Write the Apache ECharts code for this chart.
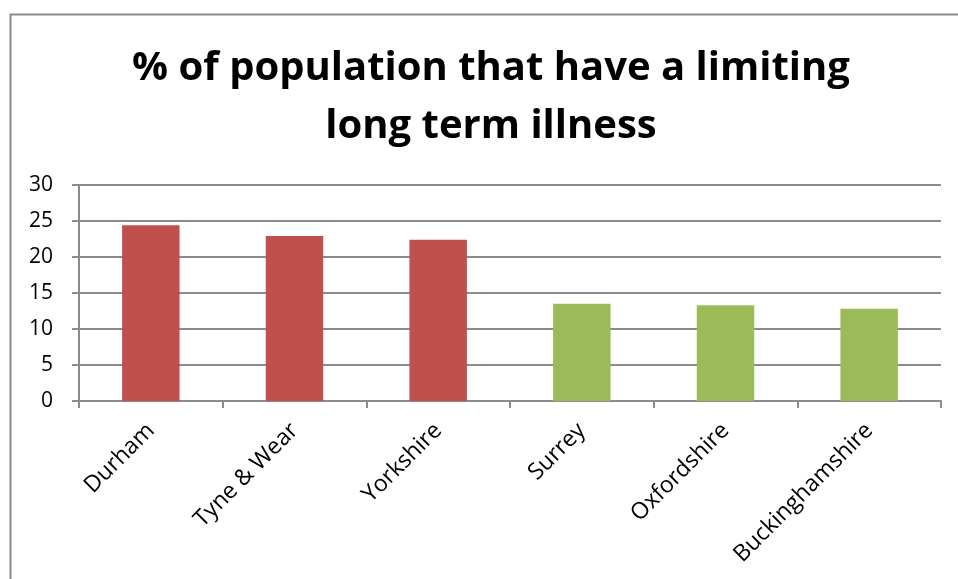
<!DOCTYPE html>
<html>
<head>
<meta charset="utf-8">
<script src="https://cdn.jsdelivr.net/npm/echarts@6/dist/echarts.min.js"></script>
<style>
  html, body { margin: 0; padding: 0; background: #fff; }
  #chart { width: 958px; height: 579px; }
</style>
</head>
<body>
<div id="chart"></div>
<script>
// counties, % with a limiting long term illness
var counties = ['Durham', 'Tyne & Wear', 'Yorkshire', 'Surrey', 'Oxfordshire', 'Buckinghamshire'];
var illness = [24.4, 22.9, 22.4, 13.5, 13.3, 12.8];
var yTicks = [0, 5, 10, 15, 20, 25, 30];

var north = '#C0504D';
var south = '#9BBB59';
var barColors = [north, north, north, south, south, south];

var chart = echarts.init(document.getElementById('chart'));

var option = {
    animation: false,
    textStyle: { fontFamily: 'Open Sans' },
    title: {
        text: '% of population that have a limiting\nlong term illness',
        left: 486,
        top: 35,
        textAlign: 'center',
        textStyle: {
            fontSize: 40,
            fontWeight: 'bold',
            color: '#000',
            lineHeight: 58,
            fontFamily: 'Open Sans'
        }
    },
    graphic: [
        {
            type: 'rect',
            shape: { x: 10.5, y: 14.5, width: 1000, height: 1000 },
            style: { fill: 'none', stroke: '#898989', lineWidth: 2 },
            silent: true
        }
    ],
    grid: {
        left: 79,
        right: 17,
        top: 185,
        bottom: 178
    },
    xAxis: {
        type: 'category',
        data: counties,
        axisLine: { lineStyle: { color: '#8c8c8c', width: 2 } },
        axisTick: { show: true, length: 7, lineStyle: { color: '#8c8c8c', width: 2 } },
        axisLabel: {
            rotate: 45,
            interval: 0,
            margin: 26,
            fontSize: 23,
            color: '#000'
        }
    },
    yAxis: {
        type: 'value',
        min: yTicks[0],
        max: yTicks[yTicks.length - 1],
        interval: 5,
        axisLine: { show: true, lineStyle: { color: '#8c8c8c', width: 2 } },
        axisTick: { show: true, length: 7, lineStyle: { color: '#8c8c8c', width: 2 } },
        splitLine: { lineStyle: { color: '#8c8c8c', width: 2 } },
        axisLabel: {
            fontSize: 21,
            color: '#000',
            margin: 26
        }
    },
    series: [
        {
            type: 'bar',
            barWidth: '40%',
            data: illness.map(function (v, i) {
                return { value: v, itemStyle: { color: barColors[i] } };
            })
        }
    ]
};

chart.setOption(option);
</script>
</body>
</html>
